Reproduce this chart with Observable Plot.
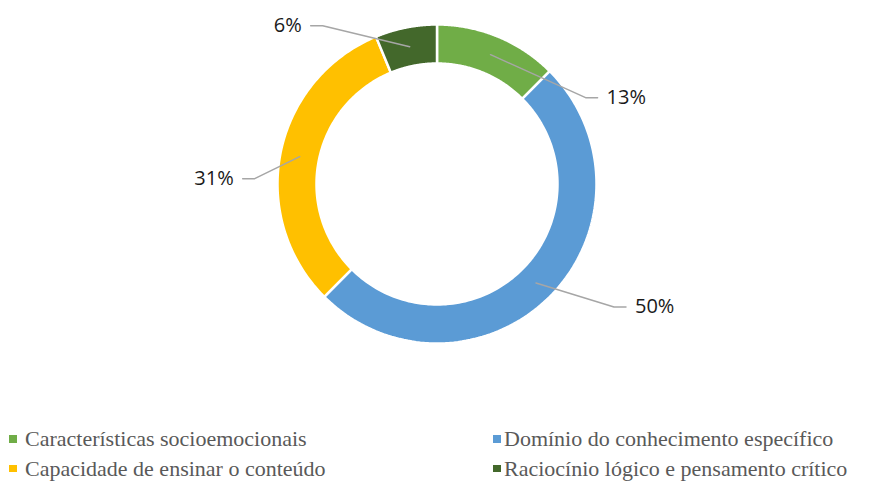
<!DOCTYPE html>
<html>
<head>
<meta charset="utf-8">
<script src="https://cdn.jsdelivr.net/npm/d3@7"></script>
<script src="https://cdn.jsdelivr.net/npm/@observablehq/plot@0.6"></script>
<style>
  html, body { margin: 0; padding: 0; background: #fff; }
  #chart { width: 883px; height: 420px; }
  #legend { position: relative; width: 883px; height: 62px; font-family: "Liberation Serif", "Times New Roman", serif; font-size: 22px; line-height: 22px; color: #595959; }
  #legend .sq { position: absolute; width: 7.5px; height: 7.5px; }
  #legend .lb { position: absolute; white-space: nowrap; }
</style>
</head>
<body>
<div id="chart"></div>
<div id="legend"></div>
<script>
// ---- data ----
const categories = [
  "Características socioemocionais",
  "Domínio do conhecimento específico",
  "Capacidade de ensinar o conteúdo",
  "Raciocínio lógico e pensamento crítico"
];
const values = [12.5, 50, 31.25, 6.25];
const labels = ["13%", "50%", "31%", "6%"];
const colors = ["#70AD47", "#5B9BD5", "#FFC000", "#43682B"];
const legendOrder = [0, 1, 2, 3];

// ---- layout ----
const W = 883, H = 420;
const cx = 436.5, cy = 183.5, R = 159.5, r = 120.5, rMid = 140;
// leader elbow offsets (px) relative to the anchor on the ring
const elbow = [[95, 43], [78, 24], [-45, 22], [-87, -21]];
const tail = 12, gap = 9;

const pie = d3.pie().sort(null).value(d => d)(values);
const pt = (a, rad) => [cx + rad * Math.sin(a), cy - rad * Math.cos(a)];

// slice polygons
const slicePts = [];
pie.forEach((p, i) => {
  const n = 120;
  const pts = [];
  for (let k = 0; k <= n; k++) pts.push(pt(p.startAngle + (p.endAngle - p.startAngle) * k / n, R));
  for (let k = n; k >= 0; k--) pts.push(pt(p.startAngle + (p.endAngle - p.startAngle) * k / n, r));
  pts.push(pts[0]);
  pts.forEach(([x, y]) => slicePts.push({cat: categories[i], x, y}));
});

// leader lines + label anchors
const leaderPts = [];
const labelData = [];
pie.forEach((p, i) => {
  const mid = (p.startAngle + p.endAngle) / 2;
  const [ax, ay] = pt(mid, rMid);
  const ex = ax + elbow[i][0], ey = ay + elbow[i][1];
  const side = elbow[i][0] >= 0 ? 1 : -1;
  const tx = ex + side * tail;
  leaderPts.push({id: i, x: ax, y: ay}, {id: i, x: ex, y: ey}, {id: i, x: tx, y: ey});
  labelData.push({text: labels[i], x: tx + side * gap, y: ey, side});
});

const chart = Plot.plot({
  width: W,
  height: H,
  margin: 0,
  x: {domain: [0, W], range: [0, W], axis: null},
  y: {domain: [0, H], range: [0, H], axis: null},
  color: {domain: categories, range: colors},
  marks: [
    Plot.line(slicePts, {x: "x", y: "y", z: "cat", fill: "cat", stroke: "#fff", strokeWidth: 2.5}),
    Plot.line(leaderPts, {x: "x", y: "y", z: "id", stroke: "#A6A6A6", strokeWidth: 1.5}),
    Plot.text(labelData.filter(d => d.side > 0), {x: "x", y: "y", text: "text", textAnchor: "start", fontSize: 20, fill: "#1a1a1a", fontFamily: "Open Sans"}),
    Plot.text(labelData.filter(d => d.side < 0), {x: "x", y: "y", text: "text", textAnchor: "end", fontSize: 20, fill: "#1a1a1a", fontFamily: "Open Sans"})
  ]
});
document.getElementById("chart").appendChild(chart);

// legend (HTML, below the SVG)
const colSquareX = [9, 493], colTextX = [25, 504], rowSquareTop = [15, 44.5], rowTextTop = [7.6, 38.3];
const legend = document.getElementById("legend");
legendOrder.forEach((k, j) => {
  const col = j % 2, row = Math.floor(j / 2);
  const sq = document.createElement("div");
  sq.className = "sq";
  sq.style.left = colSquareX[col] + "px";
  sq.style.top = rowSquareTop[row] + "px";
  sq.style.background = colors[k];
  const lb = document.createElement("div");
  lb.className = "lb";
  lb.style.left = colTextX[col] + "px";
  lb.style.top = rowTextTop[row] + "px";
  lb.textContent = categories[k];
  legend.appendChild(sq);
  legend.appendChild(lb);
});
</script>
</body>
</html>
